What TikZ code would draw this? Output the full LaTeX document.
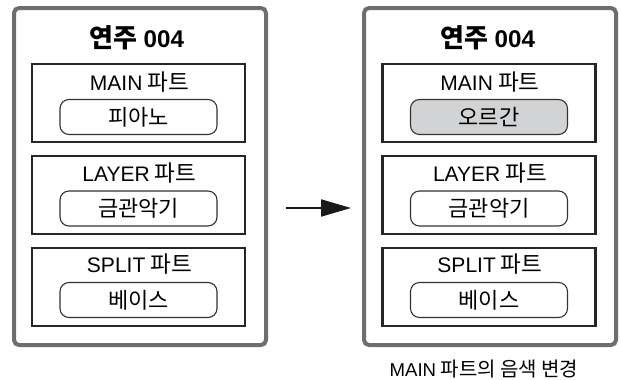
\documentclass[tikz,border=0pt]{standalone}
\usepackage{fontspec}
\setmainfont{Noto Sans CJK KR}
\newfontfamily\latf[Scale=0.93]{Liberation Sans}
\usetikzlibrary{arrows.meta}
\definecolor{outergray}{HTML}{6E6E70}
\definecolor{pillfill}{HTML}{D2D3D5}
\newcommand\lt[1]{{\latf #1}}
\begin{document}
\begin{tikzpicture}[x=1pt,y=-1pt,
  outerbox/.style={draw=outergray, line width=4pt, rounded corners=5pt, minimum width=252pt, minimum height=337pt, inner sep=0pt},
  partbox/.style={draw=black!85, line width=2.6pt, minimum width=213pt, minimum height=78pt, inner sep=0pt},
  pill/.style={draw=black!80, line width=1.1pt, rounded corners=9pt, minimum width=157pt, minimum height=35pt, inner sep=0pt, font=\fontsize{22}{24}\selectfont},
  lbl/.style={font=\fontsize{22.6}{24}\selectfont, inner sep=0pt},
  ttl/.style={font=\bfseries\fontsize{26}{28}\selectfont, inner sep=0pt},
  captxt/.style={font=\fontsize{20}{22}\selectfont, inner sep=0pt}]
\useasboundingbox (0,0) rectangle (621,380);

% left
\node[outerbox] (Lout) at (140,176.5) {};
\node[ttl] (Ltitle) at (137,38) {연주 \lt{004}};
\node[partbox] (Lmain) at (138.5,103) {};
\node[lbl] (Lmainl) at (139.5,82) {\lt{MAIN} 파트};
\node[pill] (Lmainp) at (138.5,117) {피아노};
\node[partbox] (Llay) at (138.5,195) {};
\node[lbl] (Llayl) at (139.5,173) {\lt{LAYER} 파트};
\node[pill] (Llayp) at (138.5,208.5) {금관악기};
\node[partbox] (Lspl) at (138.5,287) {};
\node[lbl] (Lspll) at (139.5,264) {\lt{SPLIT} 파트};
\node[pill] (Lsplp) at (138.5,300) {베이스};

% right
\node[outerbox] (Rout) at (490,176.5) {};
\node[ttl] (Rtitle) at (488,38) {연주 \lt{004}};
\node[partbox] (Rmain) at (489,103) {};
\node[lbl] (Rmainl) at (490,82) {\lt{MAIN} 파트};
\node[pill, fill=pillfill] (Rmainp) at (489,117) {오르간};
\node[partbox] (Rlay) at (489,195) {};
\node[lbl] (Rlayl) at (490,173) {\lt{LAYER} 파트};
\node[pill] (Rlayp) at (489,208.5) {금관악기};
\node[partbox] (Rspl) at (489,287) {};
\node[lbl] (Rspll) at (490,264) {\lt{SPLIT} 파트};
\node[pill] (Rsplp) at (489,300) {베이스};

\node[captxt] (caption) at (484,369) {\lt{MAIN} 파트의 음색 변경};

\coordinate (a1) at (286,208);
\coordinate (a2) at (351,208);
\draw[line width=2pt, black!90, -{Triangle[length=30pt,width=17pt]}] (a1) -- (a2);
\end{tikzpicture}
\end{document}
